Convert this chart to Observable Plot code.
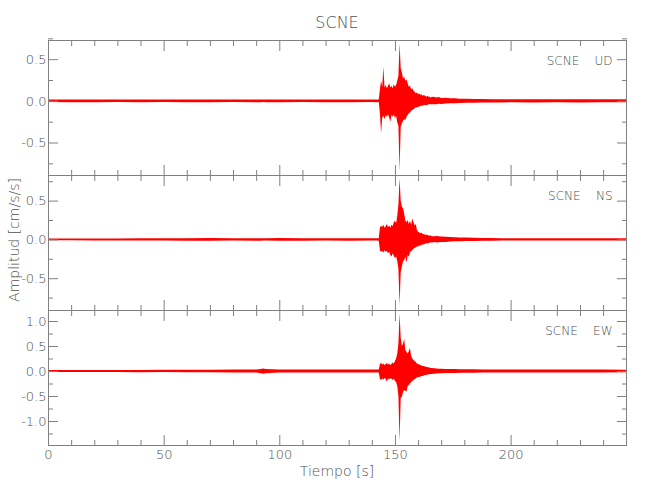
<!DOCTYPE html>
<html><head><meta charset="utf-8">
<script src="https://cdn.jsdelivr.net/npm/d3@7"></script>
<script src="https://cdn.jsdelivr.net/npm/@observablehq/plot@0.6"></script>
<style>
body{margin:0;background:#fff;}
#wrap{position:relative;width:650px;height:500px;background:#fff;font-family:"DejaVu Sans",sans-serif;font-weight:200;color:#505050;}
.lbl{position:absolute;white-space:nowrap;line-height:1;}
#wrap svg{position:absolute;left:0;}
</style></head><body><div id="wrap"></div>
<script>
// Time samples (s) at which the waveform envelope was read
const tiempo = [0,10,20,30,40,50,60,70,80,90,92,93,94,100,110,120,130,140,142,143,
  143.5,144,144.5,145,145.5,146,146.5,147,147.5,148,148.5,149,149.5,150,150.5,151,151.5,152,152.5,153,
  153.5,154,154.5,155,155.5,156,156.5,157,157.5,158,158.5,159,159.5,160,160.5,161,161.5,162,162.5,163,
  163.5,164,164.5,165,165.5,166,
  167,168,169,170,172,174,176,178,181,184,188,192,196,200,210,220,230,240,249.9];

// UD component: upper / lower envelope (cm/s/s)
const udHi = [0.015,0.017,0.015,0.016,0.015,0.017,0.016,0.015,0.017,0.015,0.016,0.015,0.017,0.015,0.016,0.017,0.015,0.016,0.015,0.017,
  0.14,0.24,0.17,0.41,0.16,0.19,0.15,0.18,0.21,0.16,0.18,0.15,0.20,0.17,0.19,0.24,0.30,0.69,0.39,0.34,
  0.27,0.29,0.24,0.26,0.21,0.17,0.18,0.14,0.15,0.12,0.11,0.09,0.10,0.08,0.09,0.07,0.08,0.06,0.07,0.06,
  0.05,0.06,0.05,0.05,0.04,0.05,
  0.045,0.04,0.045,0.035,0.037,0.03,0.031,0.026,0.025,0.023,0.021,0.02,0.019,0.019,0.018,0.019,0.018,0.019,0.018];
const udLo = [-0.015,-0.016,-0.017,-0.015,-0.016,-0.015,-0.017,-0.016,-0.015,-0.016,-0.017,-0.015,-0.016,-0.017,-0.015,-0.016,-0.017,-0.015,-0.016,-0.015,
  -0.15,-0.39,-0.20,-0.18,-0.22,-0.17,-0.19,-0.16,-0.20,-0.25,-0.17,-0.19,-0.16,-0.21,-0.18,-0.26,-0.30,-0.84,-0.31,-0.27,
  -0.24,-0.22,-0.23,-0.19,-0.17,-0.15,-0.14,-0.12,-0.11,-0.10,-0.09,-0.08,-0.08,-0.07,-0.07,-0.06,-0.06,-0.06,-0.05,-0.05,
  -0.05,-0.05,-0.04,-0.04,-0.04,-0.04,
  -0.04,-0.04,-0.035,-0.037,-0.033,-0.03,-0.028,-0.026,-0.024,-0.022,-0.02,-0.019,-0.019,-0.018,-0.019,-0.018,-0.019,-0.018,-0.018];

// NS component
const nsHi = [0.012,0.013,0.012,0.013,0.015,0.016,0.015,0.017,0.016,0.015,0.015,0.016,0.015,0.017,0.015,0.016,0.015,0.016,0.015,0.015,
  0.15,0.18,0.16,0.19,0.15,0.17,0.20,0.16,0.18,0.15,0.19,0.17,0.22,0.24,0.21,0.30,0.45,0.785,0.50,0.42,
  0.40,0.33,0.24,0.22,0.25,0.20,0.24,0.19,0.27,0.22,0.18,0.20,0.12,0.10,0.09,0.08,0.09,0.07,0.07,0.06,
  0.06,0.06,0.05,0.05,0.05,0.04,
  0.04,0.045,0.04,0.037,0.035,0.03,0.027,0.025,0.023,0.021,0.019,0.017,0.016,0.015,0.015,0.014,0.014,0.014,0.014];
const nsLo = [-0.012,-0.012,-0.013,-0.013,-0.015,-0.015,-0.016,-0.016,-0.015,-0.017,-0.016,-0.015,-0.015,-0.016,-0.017,-0.015,-0.016,-0.015,-0.015,-0.016,
  -0.14,-0.16,-0.15,-0.17,-0.14,-0.16,-0.15,-0.18,-0.16,-0.20,-0.22,-0.18,-0.21,-0.24,-0.22,-0.28,-0.38,-0.845,-0.42,-0.35,
  -0.28,-0.27,-0.22,-0.30,-0.20,-0.22,-0.17,-0.15,-0.14,-0.12,-0.11,-0.10,-0.09,-0.09,-0.08,-0.08,-0.07,-0.07,-0.06,-0.06,
  -0.05,-0.05,-0.05,-0.04,-0.04,-0.04,
  -0.035,-0.04,-0.037,-0.035,-0.032,-0.028,-0.025,-0.023,-0.021,-0.02,-0.018,-0.017,-0.015,-0.015,-0.014,-0.014,-0.014,-0.014,-0.014];

// EW component
const ewHi = [0.02,0.021,0.02,0.022,0.021,0.023,0.025,0.026,0.028,0.028,0.04,0.05,0.04,0.028,0.028,0.03,0.028,0.029,0.028,0.028,
  0.14,0.16,0.13,0.15,0.12,0.14,0.16,0.13,0.15,0.12,0.14,0.17,0.15,0.20,0.25,0.35,0.55,1.15,0.66,0.50,
  0.55,0.64,0.42,0.38,0.35,0.40,0.46,0.30,0.25,0.22,0.20,0.18,0.15,0.14,0.13,0.12,0.11,0.10,0.10,0.09,
  0.08,0.08,0.07,0.07,0.06,0.06,
  0.055,0.05,0.045,0.045,0.042,0.04,0.04,0.037,0.035,0.034,0.032,0.031,0.03,0.03,0.029,0.029,0.028,0.028,0.027];
const ewLo = [-0.02,-0.021,-0.022,-0.02,-0.023,-0.022,-0.025,-0.027,-0.028,-0.029,-0.045,-0.055,-0.045,-0.029,-0.028,-0.03,-0.028,-0.029,-0.028,-0.029,
  -0.16,-0.18,-0.15,-0.17,-0.14,-0.16,-0.21,-0.15,-0.17,-0.14,-0.16,-0.18,-0.15,-0.20,-0.22,-0.30,-0.50,-1.41,-0.54,-0.51,
  -0.42,-0.38,-0.40,-0.41,-0.30,-0.28,-0.25,-0.22,-0.20,-0.18,-0.16,-0.15,-0.13,-0.12,-0.12,-0.11,-0.10,-0.10,-0.09,-0.08,
  -0.08,-0.07,-0.07,-0.06,-0.06,-0.06,
  -0.055,-0.05,-0.047,-0.045,-0.042,-0.04,-0.038,-0.037,-0.035,-0.034,-0.032,-0.031,-0.03,-0.03,-0.029,-0.029,-0.028,-0.028,-0.027];

// Tick values
const xMajor = [0,50,100,150,200];
const xMinor = [10,20,30,40,60,70,80,90,110,120,130,140,160,170,180,190,210,220,230,240];
const yMajorSmall = [-0.5,0,0.5];
const yMinorSmall = [-0.75,-0.25,0.25,0.75];
const yMajorLarge = [-1,-0.5,0,0.5,1];
const yMinorLarge = [-1.25,-0.75,-0.25,0.25,0.75];

const estacion = "SCNE";
const componentes = ["UD","NS","EW"];
const titulo = "SCNE";
const ejeX = "Tiempo [s]";
const ejeY = "Amplitud [cm/s/s]";

const wrap = document.getElementById("wrap");
const GRAY = "#808080";
const TEXT = "#505050";
const FONT = '"DejaVu Sans",sans-serif';
const fmt = d => d.toFixed(1);
const blank = () => "";

function panel(hi, lo, domain, yMaj, yMin, comp, top, showX) {
  const rows = tiempo.map((t, i) => ({t, hi: hi[i], lo: lo[i]}));
  const mt = 6, mb = showX ? 30 : 6, h = 135;
  const svg = Plot.plot({
    width: 650, height: h + mt + mb,
    marginLeft: 48, marginRight: 24, marginTop: mt, marginBottom: mb,
    x: {domain: [0, 249.9]},
    y: {domain},
    style: {fontFamily: FONT, fontSize: "13px", fontWeight: "200", color: GRAY, background: "none", overflow: "visible"},
    marks: [
      Plot.areaY(rows, {x: "t", y1: "lo", y2: "hi", fill: "#ff0000"}),
      Plot.frame({stroke: GRAY}),
      Plot.axisY(yMaj, {anchor: "left", tickSize: -10, tickFormat: blank, label: null}),
      Plot.axisY(yMin, {anchor: "left", tickSize: -5, tickFormat: blank, label: null}),
      Plot.axisY(yMaj, {anchor: "right", tickSize: -10, tickFormat: blank, label: null}),
      Plot.axisY(yMin, {anchor: "right", tickSize: -5, tickFormat: blank, label: null}),
      Plot.axisY(yMaj, {anchor: "left", tickSize: 0, tickPadding: 2, tickFormat: fmt, label: null, fill: TEXT}),
      Plot.axisX(xMajor, {anchor: "top", tickSize: -10, tickFormat: blank, label: null}),
      Plot.axisX(xMinor, {anchor: "top", tickSize: -5, tickFormat: blank, label: null}),
      Plot.axisX(xMajor, {anchor: "bottom", tickSize: -10, tickFormat: showX ? d => String(d) : blank, tickPadding: 14, label: null, fill: TEXT}),
      Plot.axisX(xMinor, {anchor: "bottom", tickSize: -5, tickFormat: blank, label: null}),
      Plot.text([estacion + "\u00a0\u00a0\u00a0\u00a0" + comp], {text: d => d, frameAnchor: "top-right", dx: -14, dy: 21, lineAnchor: "middle", textAnchor: "end", fill: TEXT, fontSize: 12})
    ]
  });
  svg.style.top = (top - mt) + "px";
  wrap.appendChild(svg);
}

panel(udHi, udLo, [-0.89, 0.73], yMajorSmall, yMinorSmall, componentes[0], 40, false);
panel(nsHi, nsLo, [-0.91, 0.83], yMajorSmall, yMinorSmall, componentes[1], 175, false);
panel(ewHi, ewLo, [-1.48, 1.22], yMajorLarge, yMinorLarge, componentes[2], 310, true);

function label(txt, css) {
  const d = document.createElement("div");
  d.className = "lbl";
  d.textContent = txt;
  Object.assign(d.style, css);
  wrap.appendChild(d);
  return d;
}
label(titulo, {left: "337px", top: "15px", fontSize: "16px", transform: "translateX(-50%)"});
label(ejeX, {left: "337px", top: "464px", fontSize: "14px", transform: "translateX(-50%)"});
label(ejeY, {left: "14px", top: "240px", fontSize: "14px", transform: "translate(-50%,-50%) rotate(-90deg)"});
</script>
</body></html>
